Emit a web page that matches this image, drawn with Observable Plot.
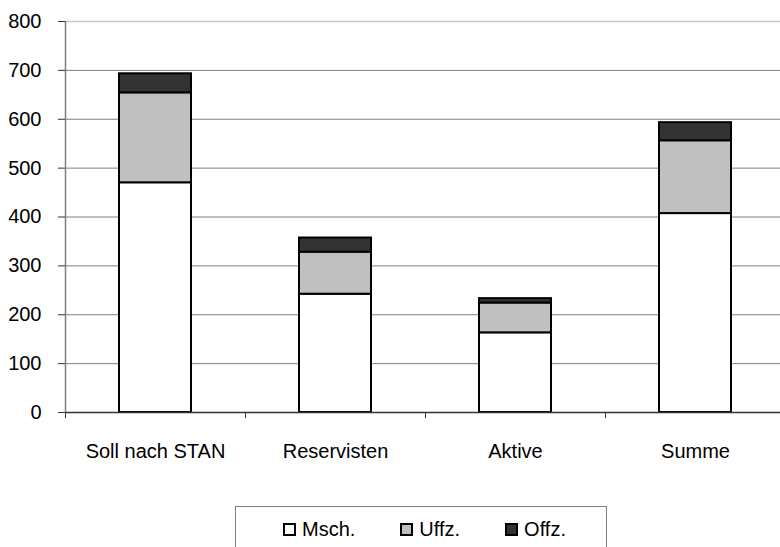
<!DOCTYPE html>
<html>
<head>
<meta charset="utf-8">
<script src="https://cdn.jsdelivr.net/npm/d3@7"></script>
<script src="https://cdn.jsdelivr.net/npm/@observablehq/plot@0.6"></script>
<style>
  body { margin: 0; background: #fff; font-family: "Liberation Sans", Arial, sans-serif; overflow: hidden; }
  #chart svg { display: block; }
  .legend { position: relative; margin-top: 6px; margin-left: 235px; width: 372px; height: 60px;
            border: 1px solid #808080; border-bottom: none; box-sizing: border-box;
            display: flex; align-items: flex-start; padding-left: 47px; padding-top: 11px; gap: 45px;
            font-size: 20px; color: #000; }
  .legend .item { display: flex; align-items: center; gap: 6px; }
  .legend .sw { width: 13px; height: 13px; border: 2px solid #000; box-sizing: border-box; }
</style>
</head>
<body>
<div id="chart"></div>
<script>
const categories = ["Soll nach STAN", "Reservisten", "Aktive", "Summe"];
const series = ["Msch.", "Uffz.", "Offz."];
const msch = [470, 242, 163, 407];
const uffz = [184, 86, 61, 149];
const offz = [39, 29, 9, 37];
const yTicks = [0, 100, 200, 300, 400, 500, 600, 700, 800];
const colors = ["#ffffff", "#c0c0c0", "#333333"];

const values = [msch, uffz, offz];
const data = [];
series.forEach((s, si) => categories.forEach((c, ci) => data.push({cat: c, series: s, value: values[si][ci]})));

const W = 780, H = 500, mTop = 21, mBottom = 88, mLeft = 65;
const xRange = [65, 785];
const step = (xRange[1] - xRange[0]) / categories.length;

const chart = Plot.plot({
  width: W,
  height: H,
  marginTop: mTop,
  marginBottom: mBottom,
  marginLeft: mLeft,
  marginRight: 0,
  style: {fontFamily: "'Liberation Sans', Arial, sans-serif", fontSize: "20px", color: "#000", background: "#fff"},
  x: {domain: categories, range: xRange, paddingInner: 0.6, paddingOuter: 0.3, label: null},
  y: {domain: [0, 800], label: null},
  color: {domain: series, range: colors},
  marks: [
    Plot.gridY(yTicks.filter(t => t < 800), {stroke: "#808080", strokeOpacity: 1, strokeWidth: 1}),
    Plot.ruleY([800], {stroke: "#c8c8c8", strokeWidth: 1.5}),
    Plot.barY(data, {x: "cat", y: "value", fill: "series", stroke: "#000", strokeWidth: 2, order: series}),
    Plot.ruleY([0], {stroke: "#333", strokeWidth: 1.5}),
    Plot.ruleX([categories[0]], {x: d => d, dx: -step / 2, stroke: "#808080", strokeWidth: 1.5}),
    Plot.ruleX(categories, {x: d => d, dx: -step / 2, stroke: "#333", strokeWidth: 1,
      insetTop: H - mTop - mBottom, insetBottom: -6}),
    Plot.axisY(yTicks, {tickSize: 7, tickPadding: 17, fontSize: 20, stroke: "#333", fill: "#000"}),
    Plot.axisX({tickSize: 0, tickPadding: 31, fontSize: 20, fill: "#000"})
  ]
});
document.getElementById("chart").appendChild(chart);

const legend = document.createElement("div");
legend.className = "legend";
series.forEach((s, i) => {
  const item = document.createElement("div");
  item.className = "item";
  const sw = document.createElement("span");
  sw.className = "sw";
  sw.style.background = colors[i];
  const t = document.createElement("span");
  t.textContent = s;
  item.appendChild(sw);
  item.appendChild(t);
  legend.appendChild(item);
});
document.body.appendChild(legend);
</script>
</body>
</html>
